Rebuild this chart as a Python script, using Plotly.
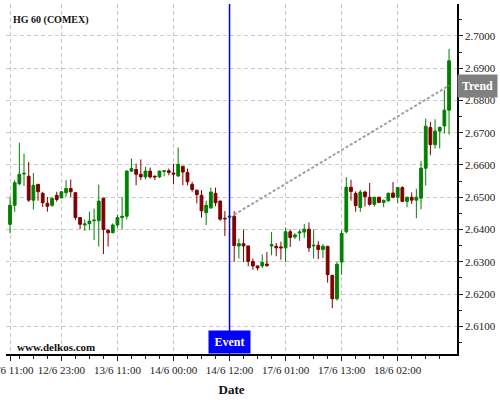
import plotly.graph_objects as go

# ---- data (hourly candles, HG 60 COMEX) ----
opens = [2.6416, 2.6475, 2.6542, 2.6572, 2.6565, 2.6491, 2.6540, 2.6512, 2.6481, 2.6475,
         2.6506, 2.6498, 2.6514, 2.6527, 2.6514, 2.6437, 2.6414, 2.6418, 2.6427, 2.6427,
         2.6497, 2.6398, 2.6390, 2.6414, 2.6437, 2.6441, 2.6581, 2.6586, 2.6571, 2.6563,
         2.6581, 2.6565, 2.6563, 2.6580, 2.6582, 2.6575, 2.6566, 2.6596, 2.6577, 2.6540,
         2.6522, 2.6506, 2.6452, 2.6467, 2.6512, 2.6488, 2.6435, 2.6438, 2.6441, 2.6349,
         2.6356, 2.6349, 2.6301, 2.6287, 2.6287, 2.6293, 2.6349, 2.6348, 2.6346, 2.6343,
         2.6393, 2.6377, 2.6389, 2.6392, 2.6401, 2.6349, 2.6351, 2.6338, 2.6348, 2.6258,
         2.6185, 2.6299, 2.6393, 2.6531, 2.6512, 2.6468, 2.6516, 2.6500, 2.6478, 2.6500,
         2.6484, 2.6489, 2.6513, 2.6500, 2.6530, 2.6487, 2.6500, 2.6491, 2.6497, 2.6590,
         2.6716, 2.6663, 2.6705, 2.6721, 2.6770]
highs = [2.6501, 2.6553, 2.6669, 2.6635, 2.6609, 2.6575, 2.6541, 2.6517, 2.6501, 2.6501,
         2.6517, 2.6519, 2.6553, 2.6555, 2.6516, 2.6438, 2.6431, 2.6455, 2.6465, 2.6539,
         2.6499, 2.6400, 2.6419, 2.6445, 2.6501, 2.6584, 2.6620, 2.6604, 2.6617, 2.6594,
         2.6592, 2.6568, 2.6582, 2.6582, 2.6589, 2.6604, 2.6654, 2.6597, 2.6589, 2.6548,
         2.6523, 2.6522, 2.6489, 2.6530, 2.6530, 2.6490, 2.6457, 2.6442, 2.6457, 2.6372,
         2.6400, 2.6350, 2.6310, 2.6288, 2.6323, 2.6330, 2.6392, 2.6358, 2.6362, 2.6406,
         2.6400, 2.6388, 2.6400, 2.6417, 2.6422, 2.6400, 2.6364, 2.6355, 2.6349, 2.6259,
         2.6299, 2.6398, 2.6562, 2.6554, 2.6518, 2.6523, 2.6520, 2.6544, 2.6501, 2.6501,
         2.6493, 2.6515, 2.6547, 2.6531, 2.6534, 2.6501, 2.6515, 2.6526, 2.6612, 2.6744,
         2.6734, 2.6742, 2.6718, 2.6833, 2.6960]
lows = [2.6388, 2.6455, 2.6537, 2.6535, 2.6486, 2.6462, 2.6489, 2.6470, 2.6455, 2.6470,
        2.6486, 2.6496, 2.6501, 2.6501, 2.6429, 2.6401, 2.6396, 2.6398, 2.6367, 2.6347,
        2.6324, 2.6347, 2.6388, 2.6405, 2.6400, 2.6431, 2.6578, 2.6537, 2.6553, 2.6555,
        2.6558, 2.6553, 2.6560, 2.6565, 2.6568, 2.6540, 2.6563, 2.6537, 2.6537, 2.6517,
        2.6481, 2.6437, 2.6414, 2.6464, 2.6472, 2.6427, 2.6380, 2.6437, 2.6300, 2.6310,
        2.6299, 2.6286, 2.6275, 2.6273, 2.6280, 2.6284, 2.6320, 2.6317, 2.6306, 2.6299,
        2.6346, 2.6370, 2.6365, 2.6374, 2.6330, 2.6310, 2.6308, 2.6312, 2.6235, 2.6156,
        2.6180, 2.6260, 2.6388, 2.6489, 2.6455, 2.6455, 2.6471, 2.6474, 2.6471, 2.6481,
        2.6469, 2.6486, 2.6497, 2.6482, 2.6486, 2.6469, 2.6479, 2.6435, 2.6463, 2.6536,
        2.6630, 2.6651, 2.6651, 2.6697, 2.6694]
closes = [2.6475, 2.6545, 2.6571, 2.6574, 2.6491, 2.6537, 2.6517, 2.6483, 2.6472, 2.6496,
          2.6493, 2.6517, 2.6527, 2.6517, 2.6437, 2.6416, 2.6417, 2.6426, 2.6429, 2.6488,
          2.6400, 2.6390, 2.6414, 2.6437, 2.6441, 2.6581, 2.6589, 2.6571, 2.6563, 2.6581,
          2.6563, 2.6563, 2.6581, 2.6582, 2.6577, 2.6572, 2.6602, 2.6578, 2.6548, 2.6524,
          2.6508, 2.6458, 2.6475, 2.6516, 2.6483, 2.6432, 2.6433, 2.6441, 2.6350, 2.6356,
          2.6349, 2.6301, 2.6287, 2.6281, 2.6298, 2.6288, 2.6353, 2.6343, 2.6343, 2.6393,
          2.6375, 2.6383, 2.6392, 2.6401, 2.6343, 2.6351, 2.6338, 2.6348, 2.6260, 2.6185,
          2.6292, 2.6388, 2.6531, 2.6518, 2.6474, 2.6516, 2.6502, 2.6478, 2.6500, 2.6484,
          2.6490, 2.6512, 2.6500, 2.6530, 2.6487, 2.6500, 2.6491, 2.6500, 2.6590, 2.6720,
          2.6663, 2.6705, 2.6717, 2.6770, 2.6923]

tick_idx = [0, 11, 23, 35, 47, 59, 71, 83]
tick_labels = ["12/6 11:00", "12/6 23:00", "13/6 11:00", "14/6 00:00",
               "14/6 12:00", "17/6 01:00", "17/6 13:00", "18/6 02:00"]
minor_idx = [2, 5, 8, 14, 17, 20, 26, 29, 32, 38, 41, 44, 50, 53, 56,
             62, 65, 68, 74, 77, 80, 86, 89, 92]
y_ticks = [2.61, 2.62, 2.63, 2.64, 2.65, 2.66, 2.67, 2.68, 2.69, 2.70, 2.71]

event_idx = 47
trend_x = [48, 94]
trend_y = [2.6446, 2.6846]

idx = list(range(len(opens)))
SERIF = "Liberation Serif, Times New Roman, serif"
GRID = "#c8c8c8"

fig = go.Figure()
fig.add_trace(go.Candlestick(
    x=idx, open=opens, high=highs, low=lows, close=closes,
    increasing=dict(line=dict(color="#008000", width=1), fillcolor="#008000"),
    decreasing=dict(line=dict(color="#800000", width=1), fillcolor="#800000"),
    whiskerwidth=0, showlegend=False, hoverinfo="skip"))
fig.add_trace(go.Scatter(
    x=trend_x, y=trend_y, mode="lines",
    line=dict(color="#a0a0a0", width=2, dash="3px,2px"),
    showlegend=False, hoverinfo="skip"))

fig.add_shape(type="line", xref="x", yref="paper", x0=event_idx, x1=event_idx,
              y0=0, y1=1, line=dict(color="#0000ff", width=1.5))

fig.add_annotation(x=event_idx, xref="x", y=0, yref="paper", yanchor="bottom",
                   text="<b>Event</b>", showarrow=False, bgcolor="#0000ff",
                   font=dict(family=SERIF, size=12, color="white"),
                   width=37, height=18, borderpad=2)
fig.add_annotation(x=1, xref="paper", xanchor="left", y=trend_y[-1], yref="y",
                   text="<b>Trend</b>", showarrow=False, bgcolor="#808080",
                   font=dict(family=SERIF, size=12, color="white"),
                   width=35, height=18, borderpad=2)
fig.add_annotation(x=0.011, xref="paper", xanchor="left", y=0.953, yref="paper",
                   yanchor="middle",
                   text="<b>HG 60 (COMEX)</b>", showarrow=False,
                   font=dict(family=SERIF, size=10, color="#111"))
fig.add_annotation(x=0.019, xref="paper", xanchor="left", y=0.0, yref="paper",
                   yanchor="bottom", yshift=-1,
                   text="<b>www.delkos.com</b>", showarrow=False,
                   font=dict(family=SERIF, size=11, color="#111"))

fig.update_layout(
    width=500, height=400,
    margin=dict(l=6, r=43, t=4, b=46, autoexpand=False),
    paper_bgcolor="white", plot_bgcolor="white",
    boxgap=0.15,
    font=dict(family=SERIF, size=11, color="#222"),
    xaxis=dict(
        automargin=False, ticklabeloverflow="allow",
        range=[-0.86, 95.7], rangeslider=dict(visible=False),
        tickmode="array", tickvals=tick_idx, ticktext=tick_labels,
        tickfont=dict(size=11, family=SERIF, color="#222"),
        ticks="outside", ticklen=5, tickcolor="#222",
        showline=True, linecolor="black", linewidth=1.5,
        showgrid=True, gridcolor=GRID, griddash="4px,3px", gridwidth=1,
        zeroline=False,
        minor=dict(tickmode="array", tickvals=minor_idx, ticks="outside",
                   ticklen=3, tickcolor="#222", showgrid=False),
        title=dict(text="<b>Date</b>", font=dict(family=SERIF, size=13, color="#111"),
                   standoff=10),
    ),
    yaxis=dict(
        automargin=False, ticklabeloverflow="allow",
        side="right", range=[2.6014, 2.7099],
        tickmode="array", tickvals=y_ticks,
        ticktext=["%.4f" % v for v in y_ticks],
        tickfont=dict(size=11, family=SERIF, color="#222"),
        ticks="outside", ticklen=4, tickcolor="#222",
        showline=True, linecolor="black", linewidth=1.5,
        showgrid=True, gridcolor=GRID, griddash="4px,3px", gridwidth=1,
        zeroline=False,
        minor=dict(tick0=2.605, dtick=0.005, ticks="outside", ticklen=3,
                   tickcolor="#222", showgrid=False),
    ),
)

fig.write_html("out.html", config={"displayModeBar": False},
               post_script="document.body.style.margin='0px';"
                           "document.body.style.overflow='hidden';")
